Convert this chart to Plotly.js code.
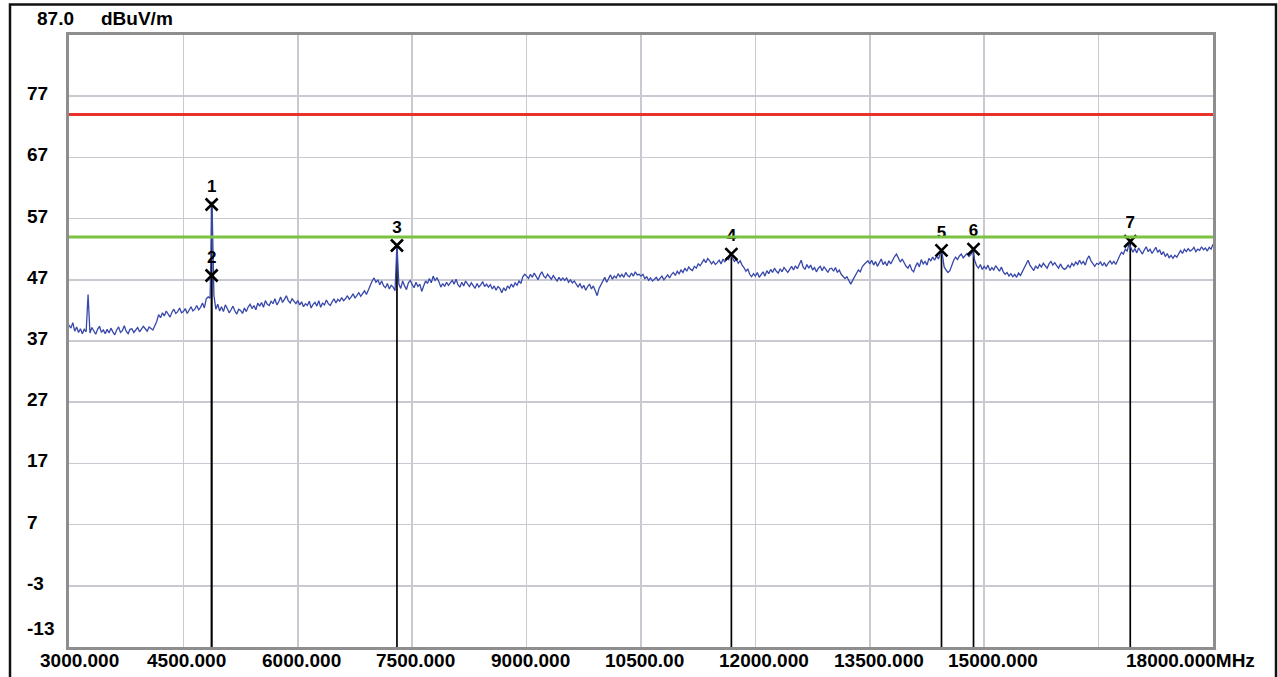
<!DOCTYPE html>
<html><head><meta charset="utf-8">
<script src="https://cdn.plot.ly/plotly-3.0.1.min.js"></script>
<style>html,body{margin:0;padding:0;background:#fff;overflow:hidden;} #chart{width:1278px;height:677px;}</style>
</head><body><div id="chart"></div>
<script>
// ---- data ----
const sweepStartMHz = 3000;
const sweepStepMHz = 25;
const levels = [
39.6,39.1,40.0,38.6,39.3,38.4,39.0,38.2,38.9,38.5,44.6,38.3,39.2,38.6,38.1,38.9,39.4,38.4,38.8,38.2,
38.9,38.3,39.1,38.5,38.0,38.8,39.3,38.4,38.7,39.5,38.6,38.2,38.9,39.0,38.4,38.8,39.2,38.5,38.9,39.4,
39.0,38.6,39.3,39.1,38.8,39.5,40.2,41.3,40.8,41.6,41.1,41.9,41.4,40.9,41.7,42.2,41.5,41.8,42.4,41.6,
41.8,42.3,41.5,42.0,42.6,41.9,42.2,42.8,42.1,42.5,43.2,42.4,43.9,44.2,44.0,59.8,44.5,42.2,43.0,41.9,
42.6,41.8,42.9,42.3,41.6,42.1,42.7,41.9,41.4,42.2,42.0,41.5,42.4,41.8,42.6,43.0,42.3,42.8,42.1,43.2,
42.7,43.3,42.5,43.6,43.0,42.8,43.5,43.1,43.9,42.9,43.4,44.2,43.3,43.8,44.4,43.6,43.2,43.9,43.5,43.1,
43.6,42.9,43.4,42.6,43.1,42.8,43.5,42.4,43.0,43.3,42.7,43.6,42.5,43.2,42.9,43.7,43.1,42.8,43.4,43.9,
43.2,43.8,43.5,44.1,43.6,43.9,44.4,43.8,44.2,44.7,44.0,44.5,44.9,44.3,44.8,45.2,44.6,45.4,46.1,46.8,
47.3,46.6,47.0,46.2,46.8,46.0,45.7,46.4,45.5,46.1,45.8,45.2,52.8,46.3,45.6,46.8,46.0,45.4,46.5,46.9,
46.2,45.7,46.6,45.9,46.3,45.1,46.0,46.8,46.4,47.2,46.5,47.6,46.9,47.3,46.7,45.8,46.4,45.9,46.6,46.1,
46.5,46.9,46.3,47.1,46.2,45.8,46.6,46.0,46.8,46.3,45.9,46.5,46.1,45.6,46.4,45.8,46.2,46.7,45.9,46.3,
45.8,46.2,45.5,46.0,45.3,45.9,45.6,44.9,45.7,45.2,46.0,45.6,46.3,45.8,46.5,46.1,46.8,46.4,47.5,47.9,
47.6,47.2,47.9,47.4,48.1,47.5,47.0,47.8,48.3,47.6,47.3,47.9,47.5,47.1,47.7,47.2,46.8,47.4,46.9,47.3,
46.9,47.3,46.6,47.0,46.5,46.8,46.2,45.8,46.4,45.6,46.1,45.3,45.9,46.3,45.5,46.0,45.2,44.4,45.6,46.2,
46.8,47.4,46.6,47.2,47.8,47.1,47.6,47.3,48.0,47.5,47.9,47.4,48.2,47.7,47.5,48.1,47.6,48.3,47.8,47.9,
47.6,47.9,47.2,47.5,46.9,47.3,46.8,47.1,47.4,46.9,47.2,47.6,47.0,47.5,47.8,47.3,47.9,48.2,47.7,48.4,
48.0,48.6,48.2,48.9,48.4,49.1,48.7,48.5,49.2,48.9,49.6,49.3,49.9,50.3,49.8,50.5,50.1,49.6,50.0,49.5,
49.8,50.2,49.6,50.4,49.9,50.6,50.3,51.3,50.5,50.0,50.4,49.7,50.1,49.4,49.0,48.4,48.8,47.9,47.5,48.0,
47.6,48.2,47.4,47.8,48.3,47.6,48.5,48.0,48.7,48.2,48.9,48.4,48.1,48.8,48.3,49.0,48.5,48.2,48.7,49.2,
48.6,49.3,48.8,49.6,50.2,49.1,48.7,49.5,48.9,49.4,48.6,49.0,48.3,48.9,49.2,48.5,49.1,48.7,48.2,48.8,
48.9,48.4,49.0,48.2,48.6,47.9,47.6,47.2,47.5,46.8,46.3,46.9,47.4,47.9,48.6,48.3,49.1,49.5,49.9,50.1,
49.6,50.2,49.4,50.0,49.2,49.8,50.4,49.5,49.9,49.3,50.1,49.6,50.3,50.8,51.2,50.5,49.9,50.4,49.7,49.2,
48.9,49.5,48.6,48.3,49.2,49.8,49.1,50.3,49.6,50.0,49.4,50.5,50.1,50.7,50.2,50.9,50.4,51.3,51.2,49.1,
48.6,48.2,48.5,49.4,50.2,50.7,50.3,50.9,51.2,50.6,51.0,51.3,50.8,51.1,51.8,50.2,49.3,48.9,49.5,48.7,
49.2,48.8,49.4,48.5,49.0,48.6,49.3,48.9,48.4,49.1,48.3,47.9,48.2,47.6,48.0,47.5,47.9,47.4,48.1,47.7,
48.3,48.9,49.6,50.2,49.4,49.0,48.5,49.3,48.8,49.5,49.1,49.7,49.2,48.9,49.6,50.0,49.4,49.8,49.3,48.9,
49.6,49.0,48.7,48.9,49.4,49.0,49.7,49.3,49.9,49.5,50.2,49.6,50.0,49.4,50.4,50.9,50.1,49.6,49.2,49.7,
49.5,49.9,49.3,49.8,49.2,49.7,50.1,49.6,50.0,49.5,50.3,50.9,51.5,51.2,52.0,51.7,52.9,52.3,51.5,52.1,
51.4,52.2,51.7,51.2,51.9,52.4,51.6,52.0,51.3,51.8,52.3,51.5,51.9,51.1,51.6,50.8,51.3,50.6,51.0,50.5,
51.0,50.7,51.4,51.8,51.3,52.0,51.6,52.1,51.7,51.9,52.3,51.6,52.0,51.8,52.4,51.9,52.2,51.7,52.3,52.0,
52.8
];
const xTickValues = [3000, 4500, 6000, 7500, 9000, 10500, 12000, 13500, 15000, 18000];
const xTickLabels = ['3000.000','4500.000','6000.000','7500.000','9000.000','10500.00','12000.000','13500.000','15000.000','18000.000MHz'];
const yTickValues = [77, 67, 57, 47, 37, 27, 17, 7, -3, -13];
const yTickLabels = ['77','67','57','47','37','27','17','7','-3','-13'];
const topValueLabel = '87.0';
const unitLabel = 'dBuV/m';
const markerLabels = ['1','2','3','4','5','6','7'];
const markerFreqs  = [4870, 4870, 7300, 11685, 14440, 14860, 16915];
const markerLevels = [59.3, 47.7, 52.6, 51.2, 51.8, 52.0, 53.3];
const peakLimit = 74;
const avgLimit = 54;

// ---- build ----
const xMin = 3000, xMax = 18000, yMin = -13, yMax = 87;
const freqs = levels.map((_, i) => sweepStartMHz + i * sweepStepMHz);
const FONT = 'Liberation Sans, Arial, Helvetica, sans-serif';

const mlx = [], mly = [];
markerFreqs.forEach((f, i) => { mlx.push(f, f, null); mly.push(markerLevels[i], yMin, null); });

const traces = [
  {x: mlx, y: mly, mode: 'lines', line: {color: '#000000', width: 1.7}, hoverinfo: 'skip'},
  {x: freqs, y: levels, mode: 'lines', line: {color: '#3747aa', width: 1.3}, hoverinfo: 'skip'},
  {x: markerFreqs, y: markerLevels, mode: 'markers+text', text: markerLabels, textposition: 'top center',
   textfont: {family: FONT, size: 17, color: '#000', weight: 'bold'},
   marker: {symbol: 'x-thin-open', size: 12, line: {color: '#000', width: 2.6}, color: '#000'}, hoverinfo: 'skip', cliponaxis: false},
  {x: [xMin, xMax], y: [avgLimit, avgLimit], mode: 'lines', line: {color: '#7cc242', width: 3}, hoverinfo: 'skip'},
  {x: [xMin, xMax], y: [peakLimit, peakLimit], mode: 'lines', line: {color: '#e8322c', width: 3}, hoverinfo: 'skip'}
];

const labelFont = {family: FONT, size: 19, color: '#000', weight: 'bold'};
const annotations = [];
yTickValues.forEach((v, i) => {
  annotations.push({xref: 'paper', yref: 'y', x: 0, y: v, xanchor: 'left', yanchor: 'middle',
    xshift: -44, yshift: (v === yMin ? 18.5 : 2.5), text: yTickLabels[i], showarrow: false, font: labelFont});
});
annotations.push({xref: 'paper', yref: 'y', x: 0, y: yMax, xanchor: 'left', yanchor: 'middle', xshift: -34, yshift: 16.5,
  text: topValueLabel, showarrow: false, font: labelFont});
annotations.push({xref: 'paper', yref: 'y', x: 0, y: yMax, xanchor: 'left', yanchor: 'middle', xshift: 30, yshift: 16.5,
  text: unitLabel, showarrow: false, font: labelFont});
xTickValues.forEach((v, i) => {
  let sh = -38;
  if (i === 0) sh = -31;
  if (i === xTickValues.length - 1) sh = -89;
  annotations.push({xref: 'x', yref: 'paper', x: v, y: 0, xanchor: 'left', yanchor: 'middle', xshift: sh, yshift: -13,
    text: xTickLabels[i], showarrow: false, font: labelFont});
});

const plotL = 69, plotR = 1213, plotT = 35, plotB = 647;
const px2x = p => (p - plotL) / (plotR - plotL);
const py2y = p => (plotB - p) / (plotB - plotT);

const layout = {
  width: 1278, height: 677,
  margin: {l: plotL, r: 1278 - plotR, t: plotT, b: 677 - plotB, pad: 0},
  paper_bgcolor: '#ffffff', plot_bgcolor: '#ffffff',
  showlegend: false,
  xaxis: {range: [xMin, xMax], tick0: xMin, dtick: 1500, showgrid: true, gridcolor: '#c9c9d1', gridwidth: 1.5,
    showticklabels: false, ticks: '', zeroline: false, showline: true, linecolor: '#8e8e8e', linewidth: 3, mirror: true, fixedrange: true},
  yaxis: {range: [yMin, yMax], tick0: yMin, dtick: 10, showgrid: true, gridcolor: '#c9c9d1', gridwidth: 1.5,
    showticklabels: false, ticks: '', zeroline: false, showline: true, linecolor: '#8e8e8e', linewidth: 3, mirror: true, fixedrange: true},
  annotations: annotations,
  shapes: [
    {type: 'rect', xref: 'paper', yref: 'paper', x0: px2x(10), x1: px2x(1276), y0: py2y(690), y1: py2y(4.5),
     line: {color: '#111111', width: 2.5}, fillcolor: 'rgba(0,0,0,0)', layer: 'above'}
  ]
};

Plotly.newPlot('chart', traces, layout, {displayModeBar: false, staticPlot: true});
</script>
</body></html>
